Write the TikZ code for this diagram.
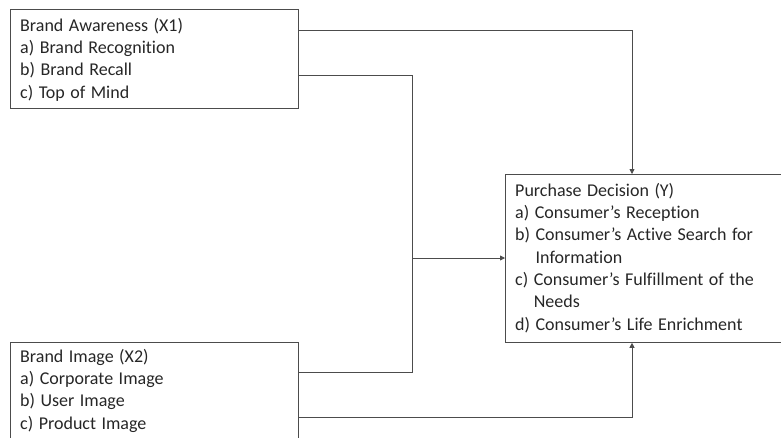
\documentclass[tikz,border=0pt]{standalone}
\usepackage{fontspec}
\setmainfont[Ligatures={NoCommon,NoRequired,NoContextual},WordSpace=1.35]{Carlito}
\usetikzlibrary{arrows.meta}
\begin{document}
\begin{tikzpicture}[x=1pt,y=-1pt,
  box/.style={draw=black!70, line width=0.8pt, anchor=north west, inner sep=0pt},
  txt/.style={anchor=north west, inner sep=0pt, align=left, text=black!85,
    font=\fontsize{18}{22.3}\selectfont},
  conn/.style={draw=black!70, line width=0.8pt},
  arr/.style={conn, -{Triangle[length=5pt,width=5pt]}}]
\useasboundingbox (0,0) rectangle (781,437);
% boxes
\node[box, minimum width=288pt, minimum height=99pt] (x1) at (10,9) {};
\node[box, minimum width=290pt, minimum height=168pt] (y) at (505,174) {};
\node[box, minimum width=288pt, minimum height=110pt] (x2) at (10,342) {};
% texts
\node[txt] (x1t) at (20,17) {\rule{0pt}{14pt}Brand Awareness (X1)\\a) Brand Recognition\\b) Brand Recall\\c) Top of Mind};
\node[txt] (yt) at (515,182) {\rule{0pt}{14pt}Purchase Decision (Y)\\a) Consumer’s Reception\\b) Consumer’s Active Search for\\\phantom{b) }Information\\c) Consumer’s Fulfillment of the\\\phantom{c) }Needs\\d) Consumer’s Life Enrichment};
\node[txt] (x2t) at (20,348) {\rule{0pt}{14pt}Brand Image (X2)\\a) Corporate Image\\b) User Image\\c) Product Image};
% junction coordinates
\coordinate (jt) at (412,75);
\coordinate (jm) at (412,258);
\coordinate (jb) at (412,372);
% connectors
\draw[arr] ([yshift=-21pt]x1.north east) -| ([xshift=127pt]y.north west);
\draw[conn] ([yshift=-66pt]x1.north east) -- (jt) -- (jb) -- ([yshift=-30pt]x2.north east);
\draw[arr] (jm) -- ([yshift=-84pt]y.north west);
\draw[arr] ([yshift=-75pt]x2.north east) -| ([xshift=127pt]y.south west);
\end{tikzpicture}
\end{document}
